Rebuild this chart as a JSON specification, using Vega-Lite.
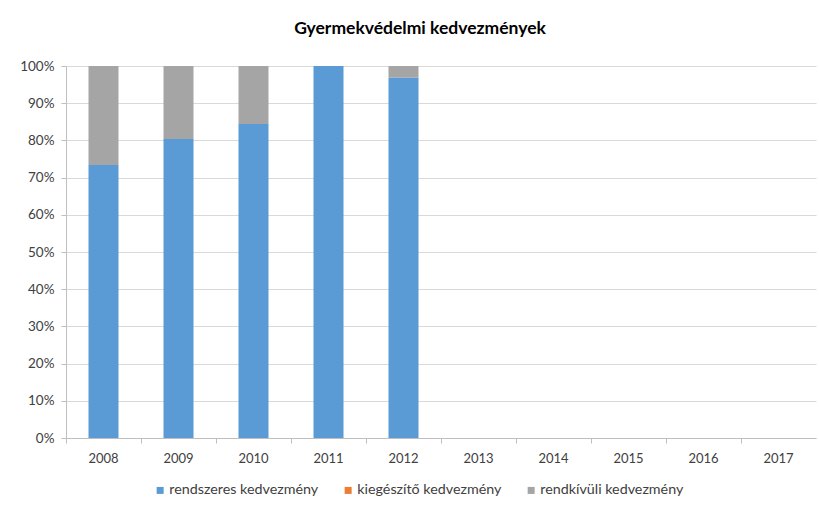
{
  "$schema": "https://vega.github.io/schema/vega-lite/v6.json",
  "width": 750,
  "height": 372,
  "autosize": "none",
  "padding": {"left": 66, "top": 66, "right": 3, "bottom": 70},
  "background": "white",
  "title": {
    "text": "Gyermekvédelmi kedvezmények",
    "font": "Lato",
    "fontSize": 17.5,
    "fontWeight": "bold",
    "color": "#000000",
    "anchor": "middle",
    "dx": -21,
    "offset": 22
  },
  "config": {
    "view": {"stroke": null},
    "font": "Lato"
  },
  "data": {
    "values": [
      {"ev": "2008", "tipus": "rendszeres kedvezmény", "ertek": 73.4},
      {"ev": "2008", "tipus": "kiegészítő kedvezmény", "ertek": 0},
      {"ev": "2008", "tipus": "rendkívüli kedvezmény", "ertek": 26.6},
      {"ev": "2009", "tipus": "rendszeres kedvezmény", "ertek": 80.4},
      {"ev": "2009", "tipus": "kiegészítő kedvezmény", "ertek": 0},
      {"ev": "2009", "tipus": "rendkívüli kedvezmény", "ertek": 19.6},
      {"ev": "2010", "tipus": "rendszeres kedvezmény", "ertek": 84.4},
      {"ev": "2010", "tipus": "kiegészítő kedvezmény", "ertek": 0},
      {"ev": "2010", "tipus": "rendkívüli kedvezmény", "ertek": 15.6},
      {"ev": "2011", "tipus": "rendszeres kedvezmény", "ertek": 100},
      {"ev": "2011", "tipus": "kiegészítő kedvezmény", "ertek": 0},
      {"ev": "2011", "tipus": "rendkívüli kedvezmény", "ertek": 0},
      {"ev": "2012", "tipus": "rendszeres kedvezmény", "ertek": 96.9},
      {"ev": "2012", "tipus": "kiegészítő kedvezmény", "ertek": 0},
      {"ev": "2012", "tipus": "rendkívüli kedvezmény", "ertek": 3.1}
    ]
  },
  "mark": {"type": "bar", "width": {"band": 0.4}},
  "encoding": {
    "x": {
      "field": "ev",
      "type": "nominal",
      "scale": {
        "domain": ["2008", "2009", "2010", "2011", "2012", "2013", "2014", "2015", "2016", "2017"],
        "paddingInner": 0,
        "paddingOuter": 0
      },
      "axis": {
        "title": null,
        "labelAngle": 0,
        "bandPosition": 0,
        "labelFont": "Lato",
        "labelFontSize": 13,
        "labelColor": "#404040",
        "labelPadding": 9,
        "domainColor": "#bfbfbf",
        "tickColor": "#bfbfbf",
        "tickSize": 5,
        "grid": false
      }
    },
    "y": {
      "field": "ertek",
      "type": "quantitative",
      "stack": "normalize",
      "scale": {"domain": [0, 1]},
      "axis": {
        "title": null,
        "format": "%",
        "values": [0, 0.1, 0.2, 0.3, 0.4, 0.5, 0.6, 0.7, 0.8, 0.9, 1],
        "labelFont": "Lato",
        "labelFontSize": 13.5,
        "labelColor": "#404040",
        "labelPadding": 7,
        "domainColor": "#bfbfbf",
        "tickColor": "#bfbfbf",
        "tickSize": 5,
        "gridColor": "#d9d9d9"
      }
    },
    "color": {
      "field": "tipus",
      "type": "nominal",
      "scale": {
        "domain": ["rendszeres kedvezmény", "kiegészítő kedvezmény", "rendkívüli kedvezmény"],
        "range": ["#5b9bd5", "#ed7d31", "#a5a5a5"]
      },
      "legend": {
        "title": null,
        "orient": "none",
        "direction": "horizontal",
        "legendX": 87,
        "legendY": 417,
        "symbolType": "square",
        "symbolSize": 49,
        "symbolStrokeWidth": 0,
        "labelFont": "Lato",
        "labelFontSize": 14.3,
        "labelColor": "#404040",
        "labelOffset": 2,
        "columnPadding": 22
      }
    },
    "order": {"field": "tipus", "sort": "descending"}
  }
}
